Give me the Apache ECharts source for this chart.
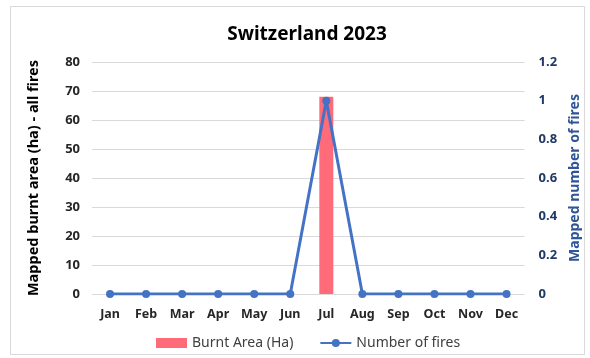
<!DOCTYPE html>
<html><head><meta charset="utf-8">
<script src="https://cdn.jsdelivr.net/npm/echarts@6/dist/echarts.min.js"></script>
<style>html,body{margin:0;padding:0;background:#fff}#c{width:590px;height:358px}</style>
</head><body><div id="c"></div>
<script>
const months = ['Jan','Feb','Mar','Apr','May','Jun','Jul','Aug','Sep','Oct','Nov','Dec'];
const burntArea = [0,0,0,0,0,0,68,0,0,0,0,0];
const numFires = [0,0,0,0,0,0,1,0,0,0,0,0];
const leftTicks = [0,10,20,30,40,50,60,70,80];
const rightTicks = [0,0.2,0.4,0.6,0.8,1,1.2];
const FONT = 'Noto Sans';
const chart = echarts.init(document.getElementById('c'));
chart.setOption({
  animation:false,
  textStyle:{fontFamily:FONT},
  graphic:[{type:'rect',shape:{x:10.5,y:6.5,width:574,height:348},style:{fill:'none',stroke:'#d9d9d9',lineWidth:1},silent:true}],
  title:{text:'Switzerland 2023',left:302,top:20,textAlign:'center',textStyle:{fontFamily:FONT,fontSize:19,fontWeight:'bold',color:'#000'}},
  legend:{bottom:3,left:151,itemGap:26,itemWidth:31,itemHeight:10,textStyle:{fontFamily:FONT,fontSize:14,color:'#404040'},
    data:[{name:'Burnt Area (Ha)',icon:'rect'},{name:'Number of fires'}]},
  grid:{left:92,right:65,top:62,bottom:64},
  xAxis:{type:'category',data:months,axisTick:{show:false},axisLine:{show:false},
    axisLabel:{fontFamily:FONT,fontSize:12.5,fontWeight:'bold',color:'#262626',margin:14}},
  yAxis:[
    {type:'value',min:0,max:80,interval:10,name:'Mapped burnt area (ha) - all fires',nameLocation:'middle',nameGap:51,
     nameTextStyle:{fontFamily:FONT,fontSize:14.5,fontWeight:'bold',color:'#000'},
     axisLabel:{fontFamily:FONT,fontSize:13,fontWeight:'bold',color:'#262626',margin:12},
     splitLine:{lineStyle:{color:'#d9d9d9'}},axisLine:{show:false},axisTick:{show:false}},
    {type:'value',min:0,max:1.2,interval:0.2,name:'Mapped number of fires',nameLocation:'middle',nameGap:42,
     nameTextStyle:{fontFamily:FONT,fontSize:14,fontWeight:'bold',color:'#2F5597'},
     axisLabel:{fontFamily:FONT,fontSize:13,fontWeight:'bold',color:'#1F3864',margin:14,align:'left',
       formatter:v=>String(Math.round(v*10)/10)},
     splitLine:{show:false},axisLine:{show:false},axisTick:{show:false}}
  ],
  series:[
    {name:'Burnt Area (Ha)',type:'bar',data:burntArea,barWidth:14,itemStyle:{color:'#FF6B79'},yAxisIndex:0},
    {name:'Number of fires',type:'line',data:numFires,yAxisIndex:1,symbol:'circle',symbolSize:8,
     lineStyle:{color:'#4472C4',width:3},itemStyle:{color:'#4472C4'}}
  ]
});
</script></body></html>
